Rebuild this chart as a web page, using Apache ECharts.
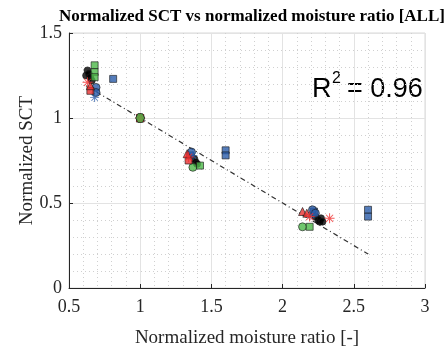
<!DOCTYPE html>
<html>
<head>
<meta charset="utf-8">
<script src="https://cdn.jsdelivr.net/npm/echarts@6/dist/echarts.min.js"></script>
<style>
  html, body { margin: 0; padding: 0; background: #fff; }
  #chart { width: 447px; height: 354px; }
</style>
</head>
<body>
<div id="chart"></div>
<script>
// points, [x, y]
var blackPts = [[0.62, 1.25], [0.63, 1.28], [0.64, 1.26], [0.65, 1.24], [0.66, 1.22],
  [1.0, 1.0], [1.38, 0.76], [1.39, 0.74], [1.40, 0.73],
  [2.23, 0.42], [2.25, 0.40], [2.26, 0.39], [2.27, 0.41], [2.28, 0.39]];
var redTri = [[0.65, 1.19], [1.0, 1.0], [1.33, 0.79], [2.14, 0.45], [2.17, 0.44]];
var redStar = [[0.63, 1.21], [1.0, 1.0], [1.34, 0.77], [2.19, 0.42], [2.33, 0.41]];
var redSq = [[0.65, 1.16], [1.0, 1.0], [1.34, 0.75]];
var blueCirc = [[0.69, 1.18], [0.69, 1.15], [1.0, 1.0], [1.36, 0.80], [2.21, 0.46], [2.23, 0.44]];
var blueSq = [[0.81, 1.23], [1.0, 1.0], [1.6, 0.81], [1.6, 0.78], [2.6, 0.46], [2.6, 0.42], [1.35, 0.78], [2.22, 0.45]];
var blueStar = [[0.68, 1.12], [1.0, 1.0], [1.37, 0.78], [2.2, 0.43]];
var greenSq = [[0.68, 1.31], [0.68, 1.27], [0.68, 1.24], [1.42, 0.72], [2.19, 0.36]];
var greenCirc = [[1.37, 0.71], [2.14, 0.36]];
var greenHex = [[1.0, 1.0]];
var fitLine = [[0.62, 1.19], [2.6, 0.2]];

var xTicks = [0.5, 1, 1.5, 2, 2.5, 3];
var yTicks = [0, 0.5, 1, 1.5];

var serif = 'Liberation Serif';
var sans = 'Liberation Sans';
var starPath = 'path://M9,0h2v20h-2z M0,9h20v2h-20z M2.2,3.6l1.4,-1.4l14.2,14.2l-1.4,1.4z M16.4,2.2l1.4,1.4l-14.2,14.2l-1.4,-1.4z';
var hexPath = 'path://M5,0h10l5,8.66l-5,8.66h-10l-5,-8.66z';

function pts(name, data, symbol, size, color) {
  return {
    name: name, type: 'scatter', data: data, symbol: symbol, symbolSize: size,
    itemStyle: { color: color, borderColor: '#1a1a1a', borderWidth: 0.8 },
    z: 3
  };
}

var myChart = echarts.init(document.getElementById('chart'));
var option = {
  animation: false,
  title: {
    text: 'Normalized SCT vs normalized moisture ratio [ALL]',
    left: 247, top: 3, textAlign: 'center',
    textStyle: { fontFamily: serif, fontWeight: 'bold', fontSize: 17, color: '#000' }
  },
  grid: { left: 69, right: 22, top: 33, bottom: 66, show: true, borderColor: '#d9d9d9', borderWidth: 1 },
  xAxis: {
    type: 'value', min: 0.5, max: 3, interval: 0.5,
    name: 'Normalized moisture ratio [-]', nameLocation: 'middle', nameGap: 41,
    nameTextStyle: { fontFamily: serif, fontSize: 19, color: '#262626' },
    axisLine: { onZero: false, lineStyle: { color: '#262626' } },
    axisTick: { inside: true, length: 4, lineStyle: { color: '#262626' } },
    axisLabel: { fontFamily: serif, fontSize: 18, color: '#262626', margin: 10,
      formatter: function (v) { return xTicks.indexOf(v) >= 0 ? String(v) : ''; } },
    splitLine: { show: true, lineStyle: { color: '#e3e3e3', width: 1 } },
    minorTick: { show: false, splitNumber: 5 },
    minorSplitLine: { show: true, lineStyle: { color: '#d0d0d0', type: [1, 3] } }
  },
  yAxis: {
    type: 'value', min: 0, max: 1.5, interval: 0.5,
    name: 'Normalized SCT', nameLocation: 'middle', nameGap: 32, nameMoveOverlap: false,
    nameTextStyle: { fontFamily: serif, fontSize: 19, color: '#262626' },
    axisLine: { show: true, lineStyle: { color: '#262626' } },
    axisTick: { show: true, inside: true, length: 4, lineStyle: { color: '#262626' } },
    axisLabel: { fontFamily: serif, fontSize: 18, color: '#262626', margin: 7,
      formatter: function (v) { return yTicks.indexOf(v) >= 0 ? String(v) : ''; } },
    splitLine: { show: true, lineStyle: { color: '#e3e3e3', width: 1 } },
    minorTick: { show: false, splitNumber: 5 },
    minorSplitLine: { show: true, lineStyle: { color: '#d0d0d0', type: [1, 3] } }
  },
  graphic: [
    { type: 'text', x: 312, y: 90, style: { text: 'R', font: '27px ' + sans, fill: '#000', verticalAlign: 'middle' } },
    { type: 'text', x: 332, y: 79, style: { text: '2', font: '16px ' + sans, fill: '#000', verticalAlign: 'middle' } },
    { type: 'text', x: 347, y: 90, style: { text: '= 0.96', font: '27px ' + sans, fill: '#000', verticalAlign: 'middle' } }
  ],
  series: [
    {
      name: 'fit', type: 'line', data: fitLine, symbol: 'none', z: 2,
      lineStyle: { color: '#333', width: 1.2, type: [5, 3, 1, 3] }
    },
    pts('black', blackPts, 'circle', 7, '#000'),
    pts('green circle', greenCirc, 'circle', 8, '#4cb848'),
    pts('green square', greenSq, 'rect', 7, '#4cb848'),
    pts('blue square', blueSq, 'rect', 7, '#2a5caa'),
    pts('blue circle', blueCirc, 'circle', 8, '#2a5caa'),
    {
      name: 'blue star', type: 'scatter', data: blueStar, symbol: starPath, symbolSize: 9,
      itemStyle: { color: '#2a5caa' }, z: 3
    },
    pts('red square', redSq, 'rect', 7, '#e8302f'),
    pts('red triangle', redTri, 'triangle', 8, '#e8302f'),
    {
      name: 'red star', type: 'scatter', data: redStar, symbol: starPath, symbolSize: 10,
      itemStyle: { color: '#f0302f' }, z: 3
    },
    pts('green hexagon', greenHex, hexPath, 9, '#4cb848')
  ]
};
myChart.setOption(option);
</script>
</body>
</html>
